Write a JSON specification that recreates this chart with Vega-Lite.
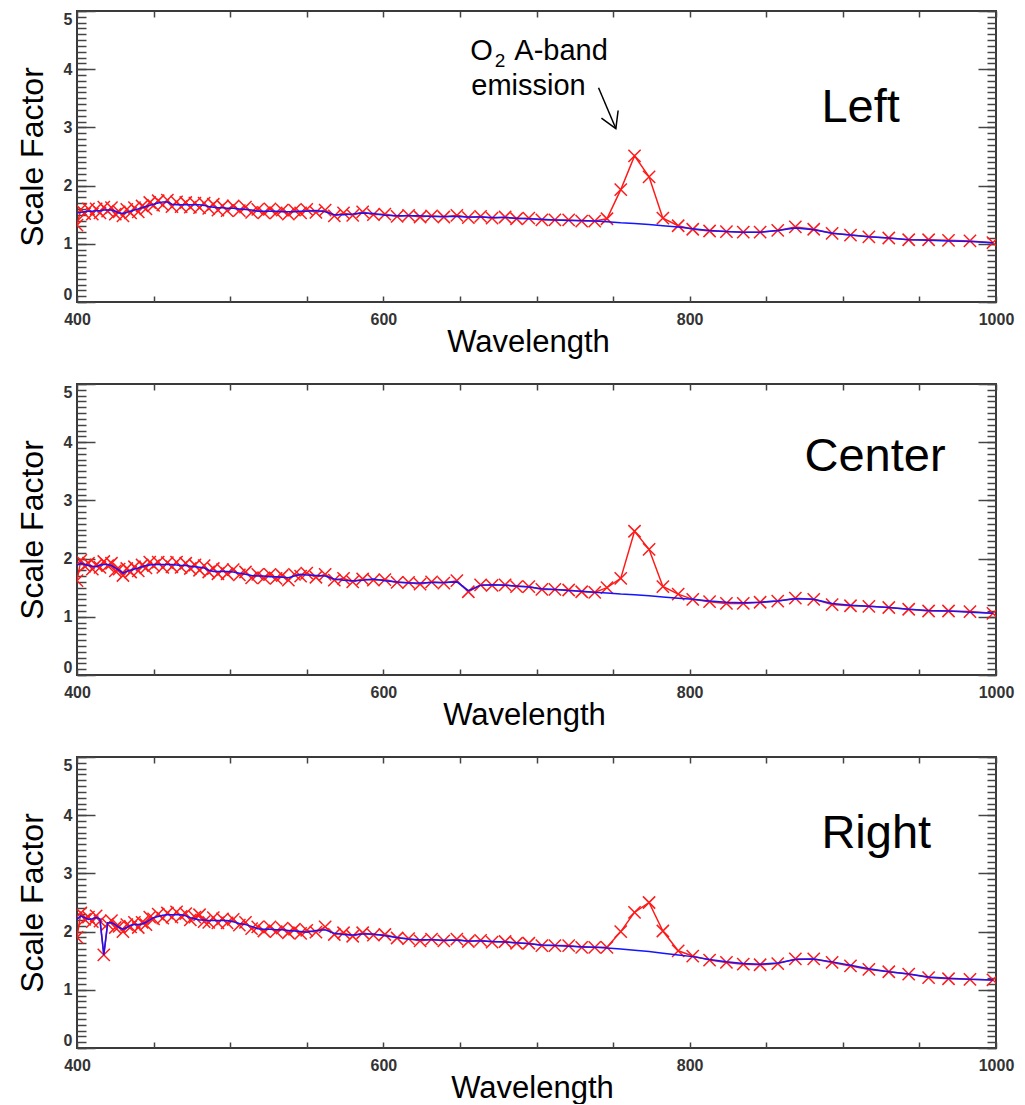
{
"$schema":"https://vega.github.io/schema/vega-lite/v6.json",
"padding":{"left":15,"top":9,"right":5,"bottom":0},
"bounds":"flush",
"spacing":82,
"background":"white",
"config":{"font":"Liberation Sans","view":{"stroke":"#3a3a3a","strokeWidth":2},"axis":{"grid":false,"domain":false}},
"datasets":{
"spectra":[
{"w":400,"L":1.32,"Lb":1.53,"C":1.62,"Cb":1.89,"R":1.90,"Rb":2.21},
{"w":402.5,"L":1.59,"Lb":1.54,"C":1.97,"Cb":1.92,"R":2.32,"Rb":2.27},
{"w":405,"L":1.52,"Lb":1.55,"C":1.87,"Cb":1.90,"R":2.21,"Rb":2.24},
{"w":407.5,"L":1.60,"Lb":1.56,"C":1.92,"Cb":1.88,"R":2.25,"Rb":2.21},
{"w":410,"L":1.51,"Lb":1.56,"C":1.82,"Cb":1.87,"R":2.17,"Rb":2.22},
{"w":412.5,"L":1.60,"Lb":1.57,"C":1.89,"Cb":1.86,"R":2.27,"Rb":2.24},
{"w":415,"L":1.53,"Lb":1.57,"C":1.85,"Cb":1.89,"R":2.18,"Rb":2.22},
{"w":417.5,"L":1.63,"Lb":1.58,"C":1.95,"Cb":1.90,"R":1.60,"Rb":1.60},
{"w":420,"L":1.56,"Lb":1.58,"C":1.88,"Cb":1.90,"R":2.13,"Rb":2.15},
{"w":422.5,"L":1.62,"Lb":1.58,"C":1.92,"Cb":1.88,"R":2.19,"Rb":2.15},
{"w":425,"L":1.51,"Lb":1.56,"C":1.79,"Cb":1.84,"R":2.07,"Rb":2.12},
{"w":427.5,"L":1.55,"Lb":1.53,"C":1.82,"Cb":1.80,"R":2.09,"Rb":2.07},
{"w":430,"L":1.48,"Lb":1.52,"C":1.71,"Cb":1.75,"R":2.00,"Rb":2.04},
{"w":432.5,"L":1.59,"Lb":1.54,"C":1.83,"Cb":1.78,"R":2.12,"Rb":2.07},
{"w":435,"L":1.53,"Lb":1.56,"C":1.77,"Cb":1.80,"R":2.08,"Rb":2.11},
{"w":437.5,"L":1.62,"Lb":1.58,"C":1.86,"Cb":1.82,"R":2.16,"Rb":2.12},
{"w":440,"L":1.55,"Lb":1.60,"C":1.79,"Cb":1.84,"R":2.07,"Rb":2.12},
{"w":442.5,"L":1.65,"Lb":1.62,"C":1.89,"Cb":1.86,"R":2.16,"Rb":2.13},
{"w":445,"L":1.60,"Lb":1.64,"C":1.84,"Cb":1.88,"R":2.12,"Rb":2.16},
{"w":447.5,"L":1.71,"Lb":1.66,"C":1.94,"Cb":1.89,"R":2.25,"Rb":2.20},
{"w":450,"L":1.66,"Lb":1.68,"C":1.88,"Cb":1.90,"R":2.22,"Rb":2.24},
{"w":453,"L":1.74,"Lb":1.70,"C":1.94,"Cb":1.90,"R":2.30,"Rb":2.26},
{"w":456,"L":1.67,"Lb":1.72,"C":1.85,"Cb":1.90,"R":2.23,"Rb":2.28},
{"w":459,"L":1.75,"Lb":1.72,"C":1.93,"Cb":1.90,"R":2.32,"Rb":2.29},
{"w":462,"L":1.64,"Lb":1.68,"C":1.86,"Cb":1.90,"R":2.25,"Rb":2.29},
{"w":465,"L":1.72,"Lb":1.67,"C":1.94,"Cb":1.89,"R":2.34,"Rb":2.29},
{"w":468,"L":1.64,"Lb":1.67,"C":1.85,"Cb":1.88,"R":2.26,"Rb":2.29},
{"w":471,"L":1.71,"Lb":1.67,"C":1.92,"Cb":1.88,"R":2.31,"Rb":2.27},
{"w":474,"L":1.63,"Lb":1.67,"C":1.83,"Cb":1.87,"R":2.20,"Rb":2.24},
{"w":477,"L":1.70,"Lb":1.67,"C":1.89,"Cb":1.86,"R":2.25,"Rb":2.22},
{"w":480,"L":1.62,"Lb":1.67,"C":1.80,"Cb":1.85,"R":2.29,"Rb":2.20},
{"w":483,"L":1.70,"Lb":1.66,"C":1.88,"Cb":1.84,"R":2.17,"Rb":2.20},
{"w":486,"L":1.61,"Lb":1.64,"C":1.77,"Cb":1.80,"R":2.16,"Rb":2.19},
{"w":489,"L":1.68,"Lb":1.63,"C":1.83,"Cb":1.78,"R":2.24,"Rb":2.19},
{"w":492,"L":1.58,"Lb":1.62,"C":1.74,"Cb":1.78,"R":2.15,"Rb":2.19},
{"w":495,"L":1.65,"Lb":1.62,"C":1.81,"Cb":1.78,"R":2.22,"Rb":2.19},
{"w":498,"L":1.57,"Lb":1.61,"C":1.74,"Cb":1.78,"R":2.15,"Rb":2.19},
{"w":502,"L":1.65,"Lb":1.61,"C":1.81,"Cb":1.77,"R":2.21,"Rb":2.17},
{"w":506,"L":1.57,"Lb":1.60,"C":1.72,"Cb":1.75,"R":2.11,"Rb":2.14},
{"w":510,"L":1.63,"Lb":1.59,"C":1.77,"Cb":1.73,"R":2.16,"Rb":2.12},
{"w":514,"L":1.54,"Lb":1.58,"C":1.67,"Cb":1.71,"R":2.05,"Rb":2.09},
{"w":518,"L":1.59,"Lb":1.56,"C":1.73,"Cb":1.70,"R":2.08,"Rb":2.05},
{"w":522,"L":1.53,"Lb":1.56,"C":1.67,"Cb":1.70,"R":2.01,"Rb":2.04},
{"w":526,"L":1.60,"Lb":1.56,"C":1.73,"Cb":1.69,"R":2.08,"Rb":2.04},
{"w":530,"L":1.53,"Lb":1.56,"C":1.66,"Cb":1.69,"R":2.00,"Rb":2.03},
{"w":534,"L":1.58,"Lb":1.55,"C":1.71,"Cb":1.68,"R":2.06,"Rb":2.03},
{"w":538,"L":1.51,"Lb":1.55,"C":1.63,"Cb":1.67,"R":1.98,"Rb":2.02},
{"w":542,"L":1.58,"Lb":1.55,"C":1.73,"Cb":1.70,"R":2.04,"Rb":2.01},
{"w":546,"L":1.53,"Lb":1.56,"C":1.70,"Cb":1.73,"R":1.97,"Rb":2.00},
{"w":550,"L":1.59,"Lb":1.56,"C":1.75,"Cb":1.72,"R":2.02,"Rb":1.99},
{"w":556,"L":1.54,"Lb":1.57,"C":1.68,"Cb":1.71,"R":1.99,"Rb":2.02},
{"w":562,"L":1.58,"Lb":1.55,"C":1.73,"Cb":1.70,"R":2.08,"Rb":2.03},
{"w":568,"L":1.48,"Lb":1.50,"C":1.63,"Cb":1.65,"R":1.95,"Rb":1.97},
{"w":574,"L":1.53,"Lb":1.50,"C":1.66,"Cb":1.63,"R":1.98,"Rb":1.95},
{"w":580,"L":1.49,"Lb":1.51,"C":1.60,"Cb":1.62,"R":1.92,"Rb":1.94},
{"w":586.5,"L":1.55,"Lb":1.53,"C":1.65,"Cb":1.63,"R":1.98,"Rb":1.96},
{"w":593.5,"L":1.50,"Lb":1.52,"C":1.63,"Cb":1.65,"R":1.94,"Rb":1.96},
{"w":601,"L":1.51,"Lb":1.49,"C":1.64,"Cb":1.62,"R":1.95,"Rb":1.93},
{"w":609,"L":1.47,"Lb":1.48,"C":1.59,"Cb":1.60,"R":1.89,"Rb":1.90},
{"w":616.5,"L":1.49,"Lb":1.48,"C":1.59,"Cb":1.58,"R":1.88,"Rb":1.87},
{"w":624,"L":1.46,"Lb":1.48,"C":1.56,"Cb":1.58,"R":1.84,"Rb":1.86},
{"w":631.5,"L":1.48,"Lb":1.47,"C":1.60,"Cb":1.59,"R":1.87,"Rb":1.86},
{"w":639.5,"L":1.46,"Lb":1.47,"C":1.58,"Cb":1.59,"R":1.84,"Rb":1.85},
{"w":648,"L":1.49,"Lb":1.47,"C":1.62,"Cb":1.60,"R":1.87,"Rb":1.85},
{"w":655.5,"L":1.45,"Lb":1.46,"C":1.43,"Cb":1.45,"R":1.83,"Rb":1.84},
{"w":663.5,"L":1.47,"Lb":1.46,"C":1.55,"Cb":1.54,"R":1.85,"Rb":1.84},
{"w":671,"L":1.44,"Lb":1.45,"C":1.54,"Cb":1.55,"R":1.82,"Rb":1.83},
{"w":679.5,"L":1.46,"Lb":1.45,"C":1.55,"Cb":1.54,"R":1.83,"Rb":1.82},
{"w":687,"L":1.43,"Lb":1.44,"C":1.52,"Cb":1.53,"R":1.80,"Rb":1.81},
{"w":695,"L":1.44,"Lb":1.43,"C":1.52,"Cb":1.51,"R":1.80,"Rb":1.79},
{"w":703.5,"L":1.41,"Lb":1.42,"C":1.47,"Cb":1.48,"R":1.76,"Rb":1.77},
{"w":712,"L":1.41,"Lb":1.41,"C":1.47,"Cb":1.47,"R":1.76,"Rb":1.76},
{"w":721,"L":1.41,"Lb":1.40,"C":1.46,"Cb":1.45,"R":1.76,"Rb":1.75},
{"w":729.5,"L":1.39,"Lb":1.40,"C":1.43,"Cb":1.44,"R":1.73,"Rb":1.74},
{"w":738,"L":1.39,"Lb":1.39,"C":1.42,"Cb":1.42,"R":1.73,"Rb":1.73},
{"w":746,"L":1.43,"Lb":1.38,"C":1.50,"Cb":1.41,"R":1.73,"Rb":1.72},
{"w":755,"L":1.93,"Lb":1.36,"C":1.66,"Cb":1.39,"R":2.00,"Rb":1.70},
{"w":764,"L":2.51,"Lb":1.35,"C":2.47,"Cb":1.38,"R":2.33,"Rb":1.68},
{"w":773.5,"L":2.15,"Lb":1.33,"C":2.16,"Cb":1.36,"R":2.50,"Rb":1.66},
{"w":782.5,"L":1.44,"Lb":1.31,"C":1.52,"Cb":1.34,"R":2.01,"Rb":1.63},
{"w":792.5,"L":1.31,"Lb":1.29,"C":1.39,"Cb":1.32,"R":1.67,"Rb":1.60},
{"w":802,"L":1.25,"Lb":1.26,"C":1.30,"Cb":1.30,"R":1.58,"Rb":1.57},
{"w":813,"L":1.22,"Lb":1.23,"C":1.26,"Cb":1.27,"R":1.51,"Rb":1.52},
{"w":824,"L":1.21,"Lb":1.21,"C":1.23,"Cb":1.25,"R":1.47,"Rb":1.48},
{"w":835,"L":1.20,"Lb":1.20,"C":1.23,"Cb":1.24,"R":1.44,"Rb":1.45},
{"w":846,"L":1.20,"Lb":1.20,"C":1.25,"Cb":1.25,"R":1.43,"Rb":1.44},
{"w":857.5,"L":1.23,"Lb":1.23,"C":1.27,"Cb":1.27,"R":1.45,"Rb":1.46},
{"w":869,"L":1.29,"Lb":1.27,"C":1.32,"Cb":1.31,"R":1.53,"Rb":1.52},
{"w":881,"L":1.25,"Lb":1.24,"C":1.30,"Cb":1.30,"R":1.53,"Rb":1.53},
{"w":893,"L":1.18,"Lb":1.18,"C":1.21,"Cb":1.23,"R":1.47,"Rb":1.48},
{"w":905,"L":1.15,"Lb":1.15,"C":1.19,"Cb":1.20,"R":1.41,"Rb":1.42},
{"w":917,"L":1.12,"Lb":1.12,"C":1.18,"Cb":1.18,"R":1.35,"Rb":1.36},
{"w":930,"L":1.10,"Lb":1.10,"C":1.16,"Cb":1.16,"R":1.31,"Rb":1.31},
{"w":943,"L":1.07,"Lb":1.07,"C":1.13,"Cb":1.13,"R":1.27,"Rb":1.27},
{"w":956,"L":1.07,"Lb":1.06,"C":1.10,"Cb":1.11,"R":1.21,"Rb":1.22},
{"w":969,"L":1.06,"Lb":1.05,"C":1.10,"Cb":1.10,"R":1.19,"Rb":1.20},
{"w":983,"L":1.05,"Lb":1.04,"C":1.09,"Cb":1.08,"R":1.18,"Rb":1.18},
{"w":998,"L":1.02,"Lb":1.02,"C":1.06,"Cb":1.06,"R":1.17,"Rb":1.17}
],
"labels":[{"panel":"Left","w":886,"v":3.09},{"panel":"Center","w":875,"v":3.50},{"panel":"Right","w":886,"v":3.44}],
"note":[{"t":"O","w":656.7,"v":4.15},{"t":"A-band","w":685.5,"v":4.15},{"t":"emission","w":657.4,"v":3.56}],
"sub":[{"t":"2","w":672.8,"v":4.04}],
"shaft":[{"w":740.5,"v":3.68,"w2":751.8,"v2":2.98}],
"head":[{"o":1,"w":742.4,"v":3.16},{"o":2,"w":751.8,"v":2.98},{"o":3,"w":753.3,"v":3.29}]
},
"vconcat":[
{
"width":919,"height":291,
"data":{"name":"spectra"},
"resolve":{"axis":{"x":"independent","y":"independent"}},
"layer":[
{"mark":{"type":"line","color":"#ff1a1a","strokeWidth":1.5,"clip":true},
 "encoding":{
  "x":{"field":"w","type":"quantitative","scale":{"domain":[400,1000],"nice":false,"zero":false},"axis":{"orient":"bottom","values":[400,450,500,550,600,650,700,750,800,850,900,950,1000],"format":"d","labelExpr":"datum.value % 200 === 0 ? datum.label : ''","tickSize":-6,"tickColor":"#444","tickWidth":1.5,"domain":false,"grid":false,"labelFont":"Liberation Sans","labelFontWeight":"bold","labelFontSize":16,"labelColor":"#333","labelPadding":15,"labelFlush":false,"labelOverlap":false,"title":"Wavelength","titleFont":"Liberation Sans","titleFontSize":31,"titleFontWeight":"normal","titleColor":"#000","titlePadding":0,"titleX":451}},
  "y":{"field":"L","type":"quantitative","scale":{"domain":[0,5],"nice":false},"axis":{"orient":"left","values":[0,1,2,3,4,5],"format":"d","tickSize":-18,"tickColor":"#444","tickWidth":1.5,"domain":false,"grid":false,"labelFont":"Liberation Sans","labelFontWeight":"bold","labelFontSize":16,"labelColor":"#333","labelPadding":23,"labelFlush":true,"title":"Scale Factor","titleFont":"Liberation Sans","titleFontSize":32,"titleFontWeight":"normal","titleColor":"#000","titlePadding":14}}}},
{"mark":{"type":"point","shape":"M-1,-1L1,1M-1,1L1,-1","filled":false,"color":"#ff1a1a","strokeWidth":1.5,"size":150,"opacity":1,"clip":true},
 "encoding":{
  "x":{"field":"w","type":"quantitative","scale":{"domain":[400,1000],"nice":false,"zero":false},"axis":{"orient":"top","values":[400,450,500,550,600,650,700,750,800,850,900,950,1000],"tickSize":-6,"tickColor":"#444","tickWidth":1.5,"domain":false,"grid":false,"labels":false,"title":null}},
  "y":{"field":"L","type":"quantitative","scale":{"domain":[0,5],"nice":false},"axis":{"orient":"left","values":[0,0.1,0.2,0.3,0.4,0.5,0.6,0.7,0.8,0.9,1,1.1,1.2,1.3,1.4,1.5,1.6,1.7,1.8,1.9,2,2.1,2.2,2.3,2.4,2.5,2.6,2.7,2.8,2.9,3,3.1,3.2,3.3,3.4,3.5,3.6,3.7,3.8,3.9,4,4.1,4.2,4.3,4.4,4.5,4.6,4.7,4.8,4.9,5],"tickSize":-9,"tickColor":"#444","tickWidth":1.5,"domain":false,"grid":false,"labels":false,"title":null}}}},
{"mark":{"type":"line","color":"#1414ff","strokeWidth":1.5,"clip":true},
 "encoding":{
  "x":{"field":"w","type":"quantitative","scale":{"domain":[400,1000],"nice":false,"zero":false},"axis":null},
  "y":{"field":"Lb","type":"quantitative","scale":{"domain":[0,5],"nice":false},"axis":{"orient":"right","values":[0,1,2,3,4,5],"tickSize":-18,"tickColor":"#444","tickWidth":1.5,"domain":false,"grid":false,"labels":false,"title":null}}}},
{"data":{"name":"labels"},"transform":[{"filter":"datum.panel === 'Left'"}],
 "mark":{"type":"text","font":"Liberation Sans","fontSize":47,"align":"left","baseline":"alphabetic","color":"#000"},
 "encoding":{
  "text":{"field":"panel"},
  "x":{"field":"w","type":"quantitative","axis":null},
  "y":{"field":"v","type":"quantitative","axis":{"orient":"right","values":[0,0.1,0.2,0.3,0.4,0.5,0.6,0.7,0.8,0.9,1,1.1,1.2,1.3,1.4,1.5,1.6,1.7,1.8,1.9,2,2.1,2.2,2.3,2.4,2.5,2.6,2.7,2.8,2.9,3,3.1,3.2,3.3,3.4,3.5,3.6,3.7,3.8,3.9,4,4.1,4.2,4.3,4.4,4.5,4.6,4.7,4.8,4.9,5],"tickSize":-9,"tickColor":"#444","tickWidth":1.5,"domain":false,"grid":false,"labels":false,"title":null}}}},
{"data":{"name":"note"},
 "mark":{"type":"text","font":"Liberation Sans","fontSize":29,"align":"left","baseline":"alphabetic","color":"#000"},
 "encoding":{"text":{"field":"t"},"x":{"field":"w","type":"quantitative","axis":null},"y":{"field":"v","type":"quantitative","axis":null}}},
{"data":{"name":"sub"},
 "mark":{"type":"text","font":"Liberation Sans","fontSize":19,"align":"left","baseline":"alphabetic","color":"#000"},
 "encoding":{"text":{"field":"t"},"x":{"field":"w","type":"quantitative","axis":null},"y":{"field":"v","type":"quantitative","axis":null}}},
{"data":{"name":"shaft"},
 "mark":{"type":"rule","color":"#000","strokeWidth":1.5},
 "encoding":{"x":{"field":"w","type":"quantitative","axis":null},"y":{"field":"v","type":"quantitative","axis":null},"x2":{"field":"w2"},"y2":{"field":"v2"}}},
{"data":{"name":"head"},
 "mark":{"type":"line","color":"#000","strokeWidth":1.5},
 "encoding":{"x":{"field":"w","type":"quantitative","axis":null},"y":{"field":"v","type":"quantitative","axis":null},"order":{"field":"o"}}}
]
},
{
"width":919,"height":291,
"data":{"name":"spectra"},
"resolve":{"axis":{"x":"independent","y":"independent"}},
"layer":[
{"mark":{"type":"line","color":"#ff1a1a","strokeWidth":1.5,"clip":true},
 "encoding":{
  "x":{"field":"w","type":"quantitative","scale":{"domain":[400,1000],"nice":false,"zero":false},"axis":{"orient":"bottom","values":[400,450,500,550,600,650,700,750,800,850,900,950,1000],"format":"d","labelExpr":"datum.value % 200 === 0 ? datum.label : ''","tickSize":-6,"tickColor":"#444","tickWidth":1.5,"domain":false,"grid":false,"labelFont":"Liberation Sans","labelFontWeight":"bold","labelFontSize":16,"labelColor":"#333","labelPadding":15,"labelFlush":false,"labelOverlap":false,"title":"Wavelength","titleFont":"Liberation Sans","titleFontSize":31,"titleFontWeight":"normal","titleColor":"#000","titlePadding":0,"titleX":447}},
  "y":{"field":"C","type":"quantitative","scale":{"domain":[0,5],"nice":false},"axis":{"orient":"left","values":[0,1,2,3,4,5],"format":"d","tickSize":-18,"tickColor":"#444","tickWidth":1.5,"domain":false,"grid":false,"labelFont":"Liberation Sans","labelFontWeight":"bold","labelFontSize":16,"labelColor":"#333","labelPadding":23,"labelFlush":true,"title":"Scale Factor","titleFont":"Liberation Sans","titleFontSize":32,"titleFontWeight":"normal","titleColor":"#000","titlePadding":14}}}},
{"mark":{"type":"point","shape":"M-1,-1L1,1M-1,1L1,-1","filled":false,"color":"#ff1a1a","strokeWidth":1.5,"size":150,"opacity":1,"clip":true},
 "encoding":{
  "x":{"field":"w","type":"quantitative","scale":{"domain":[400,1000],"nice":false,"zero":false},"axis":{"orient":"top","values":[400,450,500,550,600,650,700,750,800,850,900,950,1000],"tickSize":-6,"tickColor":"#444","tickWidth":1.5,"domain":false,"grid":false,"labels":false,"title":null}},
  "y":{"field":"C","type":"quantitative","scale":{"domain":[0,5],"nice":false},"axis":{"orient":"left","values":[0,0.1,0.2,0.3,0.4,0.5,0.6,0.7,0.8,0.9,1,1.1,1.2,1.3,1.4,1.5,1.6,1.7,1.8,1.9,2,2.1,2.2,2.3,2.4,2.5,2.6,2.7,2.8,2.9,3,3.1,3.2,3.3,3.4,3.5,3.6,3.7,3.8,3.9,4,4.1,4.2,4.3,4.4,4.5,4.6,4.7,4.8,4.9,5],"tickSize":-9,"tickColor":"#444","tickWidth":1.5,"domain":false,"grid":false,"labels":false,"title":null}}}},
{"mark":{"type":"line","color":"#1414ff","strokeWidth":1.5,"clip":true},
 "encoding":{
  "x":{"field":"w","type":"quantitative","scale":{"domain":[400,1000],"nice":false,"zero":false},"axis":null},
  "y":{"field":"Cb","type":"quantitative","scale":{"domain":[0,5],"nice":false},"axis":{"orient":"right","values":[0,1,2,3,4,5],"tickSize":-18,"tickColor":"#444","tickWidth":1.5,"domain":false,"grid":false,"labels":false,"title":null}}}},
{"data":{"name":"labels"},"transform":[{"filter":"datum.panel === 'Center'"}],
 "mark":{"type":"text","font":"Liberation Sans","fontSize":47,"align":"left","baseline":"alphabetic","color":"#000"},
 "encoding":{
  "text":{"field":"panel"},
  "x":{"field":"w","type":"quantitative","axis":null},
  "y":{"field":"v","type":"quantitative","axis":{"orient":"right","values":[0,0.1,0.2,0.3,0.4,0.5,0.6,0.7,0.8,0.9,1,1.1,1.2,1.3,1.4,1.5,1.6,1.7,1.8,1.9,2,2.1,2.2,2.3,2.4,2.5,2.6,2.7,2.8,2.9,3,3.1,3.2,3.3,3.4,3.5,3.6,3.7,3.8,3.9,4,4.1,4.2,4.3,4.4,4.5,4.6,4.7,4.8,4.9,5],"tickSize":-9,"tickColor":"#444","tickWidth":1.5,"domain":false,"grid":false,"labels":false,"title":null}}}}
]
},
{
"width":919,"height":291,
"data":{"name":"spectra"},
"resolve":{"axis":{"x":"independent","y":"independent"}},
"layer":[
{"mark":{"type":"line","color":"#ff1a1a","strokeWidth":1.5,"clip":true},
 "encoding":{
  "x":{"field":"w","type":"quantitative","scale":{"domain":[400,1000],"nice":false,"zero":false},"axis":{"orient":"bottom","values":[400,450,500,550,600,650,700,750,800,850,900,950,1000],"format":"d","labelExpr":"datum.value % 200 === 0 ? datum.label : ''","tickSize":-6,"tickColor":"#444","tickWidth":1.5,"domain":false,"grid":false,"labelFont":"Liberation Sans","labelFontWeight":"bold","labelFontSize":16,"labelColor":"#333","labelPadding":15,"labelFlush":false,"labelOverlap":false,"title":"Wavelength","titleFont":"Liberation Sans","titleFontSize":31,"titleFontWeight":"normal","titleColor":"#000","titlePadding":0,"titleX":455}},
  "y":{"field":"R","type":"quantitative","scale":{"domain":[0,5],"nice":false},"axis":{"orient":"left","values":[0,1,2,3,4,5],"format":"d","tickSize":-18,"tickColor":"#444","tickWidth":1.5,"domain":false,"grid":false,"labelFont":"Liberation Sans","labelFontWeight":"bold","labelFontSize":16,"labelColor":"#333","labelPadding":23,"labelFlush":true,"title":"Scale Factor","titleFont":"Liberation Sans","titleFontSize":32,"titleFontWeight":"normal","titleColor":"#000","titlePadding":14}}}},
{"mark":{"type":"point","shape":"M-1,-1L1,1M-1,1L1,-1","filled":false,"color":"#ff1a1a","strokeWidth":1.5,"size":150,"opacity":1,"clip":true},
 "encoding":{
  "x":{"field":"w","type":"quantitative","scale":{"domain":[400,1000],"nice":false,"zero":false},"axis":{"orient":"top","values":[400,450,500,550,600,650,700,750,800,850,900,950,1000],"tickSize":-6,"tickColor":"#444","tickWidth":1.5,"domain":false,"grid":false,"labels":false,"title":null}},
  "y":{"field":"R","type":"quantitative","scale":{"domain":[0,5],"nice":false},"axis":{"orient":"left","values":[0,0.1,0.2,0.3,0.4,0.5,0.6,0.7,0.8,0.9,1,1.1,1.2,1.3,1.4,1.5,1.6,1.7,1.8,1.9,2,2.1,2.2,2.3,2.4,2.5,2.6,2.7,2.8,2.9,3,3.1,3.2,3.3,3.4,3.5,3.6,3.7,3.8,3.9,4,4.1,4.2,4.3,4.4,4.5,4.6,4.7,4.8,4.9,5],"tickSize":-9,"tickColor":"#444","tickWidth":1.5,"domain":false,"grid":false,"labels":false,"title":null}}}},
{"mark":{"type":"line","color":"#1414ff","strokeWidth":1.5,"clip":true},
 "encoding":{
  "x":{"field":"w","type":"quantitative","scale":{"domain":[400,1000],"nice":false,"zero":false},"axis":null},
  "y":{"field":"Rb","type":"quantitative","scale":{"domain":[0,5],"nice":false},"axis":{"orient":"right","values":[0,1,2,3,4,5],"tickSize":-18,"tickColor":"#444","tickWidth":1.5,"domain":false,"grid":false,"labels":false,"title":null}}}},
{"data":{"name":"labels"},"transform":[{"filter":"datum.panel === 'Right'"}],
 "mark":{"type":"text","font":"Liberation Sans","fontSize":47,"align":"left","baseline":"alphabetic","color":"#000"},
 "encoding":{
  "text":{"field":"panel"},
  "x":{"field":"w","type":"quantitative","axis":null},
  "y":{"field":"v","type":"quantitative","axis":{"orient":"right","values":[0,0.1,0.2,0.3,0.4,0.5,0.6,0.7,0.8,0.9,1,1.1,1.2,1.3,1.4,1.5,1.6,1.7,1.8,1.9,2,2.1,2.2,2.3,2.4,2.5,2.6,2.7,2.8,2.9,3,3.1,3.2,3.3,3.4,3.5,3.6,3.7,3.8,3.9,4,4.1,4.2,4.3,4.4,4.5,4.6,4.7,4.8,4.9,5],"tickSize":-9,"tickColor":"#444","tickWidth":1.5,"domain":false,"grid":false,"labels":false,"title":null}}}}
]
}
]
}
